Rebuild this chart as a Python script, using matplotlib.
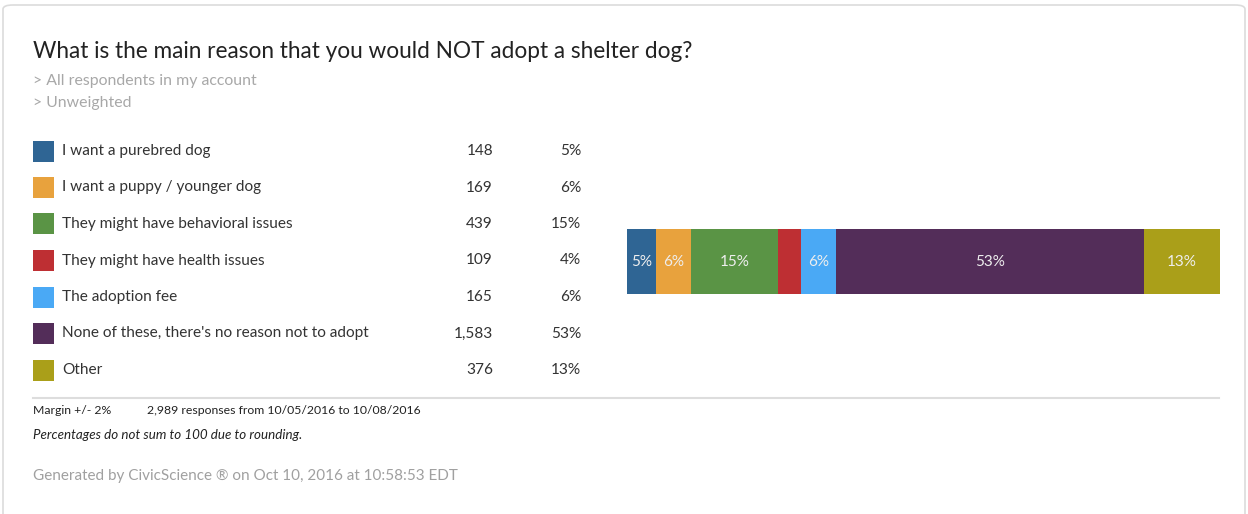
import matplotlib
matplotlib.use("Agg")
import matplotlib.pyplot as plt
from matplotlib.patches import FancyBboxPatch
import numpy as np

W, H = 1248, 514

# data
answers = ["I want a purebred dog", "I want a puppy / younger dog",
           "They might have behavioral issues", "They might have health issues",
           "The adoption fee", "None of these, there's no reason not to adopt", "Other"]
counts = [148, 169, 439, 109, 165, 1583, 376]
pcts = [5, 6, 15, 4, 6, 53, 13]
colors = ["#2f6594", "#e8a23d", "#5a9445", "#be2f33", "#4aa9f5", "#532d59", "#aa9f19"]

plt.rcParams['font.family'] = ['Lato', 'DejaVu Sans']

fig = plt.figure(figsize=(W / 100, H / 100), dpi=100)
fig.patch.set_facecolor("white")


def px(x, y):
    return x / W, 1 - y / H


# card border (runs off the bottom edge)
card = FancyBboxPatch(px(3, 525), 1242 / W, 520 / H, boxstyle="round,pad=0,rounding_size=0.008",
                      transform=fig.transFigure, facecolor="none", edgecolor="#dcdcdc", lw=1.2,
                      zorder=-1)
fig.patches.append(card)

fig.text(*px(33, 51), "What is the main reason that you would NOT adopt a shelter dog?",
         fontsize=16.3, color="#222222", va="center")
fig.text(*px(33, 81), "> All respondents in my account", fontsize=11.4, color="#a8a8a8", va="center")
fig.text(*px(33, 103), "> Unweighted", fontsize=11.4, color="#a8a8a8", va="center")

# legend table
row0, step = 151, 36.5
for i, (lab, c, p, col) in enumerate(zip(answers, counts, pcts, colors)):
    y = row0 + i * step
    fig.patches.append(plt.Rectangle(px(33, y + 10.5), 21 / W, 21 / H, transform=fig.transFigure,
                                     facecolor=col, edgecolor="none"))
    fig.text(*px(62, y), lab, fontsize=11.1, color="#333333", va="center")
    fig.text(*px(493, y), f"{c:,}", fontsize=11.1, color="#333333", va="center", ha="right")
    fig.text(*px(581, y), f"{p}%", fontsize=11.1, color="#333333", va="center", ha="right")

# stacked bar (segment widths follow the rounded percentages)
ax = fig.add_axes([627 / W, 1 - 294 / H, (1220 - 627) / W, 65 / H])
left = np.concatenate([[0], np.cumsum(pcts)[:-1]])
for i in range(len(pcts)):
    ax.barh([0], [pcts[i]], left=[left[i]], color=colors[i], height=1)
for i, p in enumerate(pcts):
    if p >= 5:
        ax.text(left[i] + pcts[i] / 2, 0, f"{p}%", color="#eeeeee", fontsize=11,
                ha="center", va="center")
ax.set_xlim(0, sum(pcts))
ax.set_ylim(-0.5, 0.5)
ax.axis("off")

# divider
fig.add_artist(plt.Line2D([33 / W, 1219 / W], [1 - 398 / H, 1 - 398 / H], color="#dddddd", lw=1.5))

fig.text(*px(33, 411), "Margin +/- 2%", fontsize=8.8, color="#222222", va="center")
fig.text(*px(147, 411), "2,989 responses from 10/05/2016 to 10/08/2016", fontsize=8.8,
         color="#222222", va="center")
fig.text(*px(33, 435), "Percentages do not sum to 100 due to rounding.", fontsize=9.6,
         color="#222222", va="center", style="italic")
fig.text(*px(33, 476), "Generated by CivicScience \u00ae on Oct 10, 2016 at 10:58:53 EDT",
         fontsize=11, color="#a0a0a0", va="center")

fig.savefig("out.png", dpi=100, facecolor="white")
